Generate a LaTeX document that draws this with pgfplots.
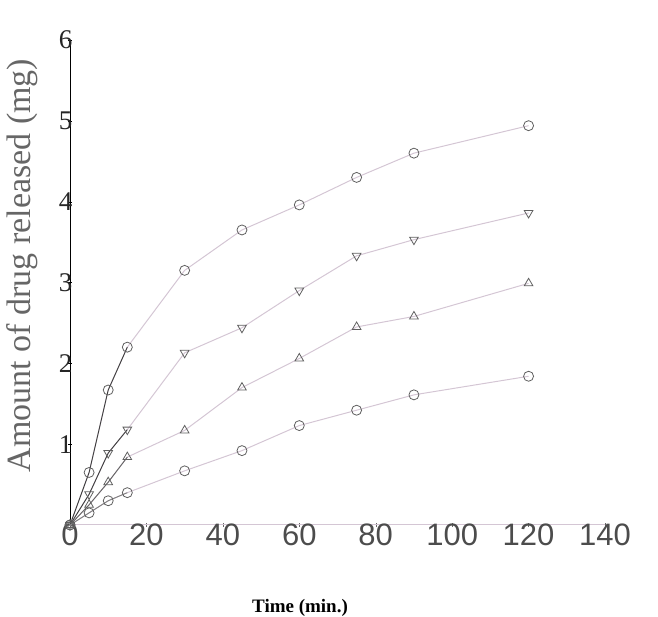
\documentclass[border=0pt]{standalone}
\usepackage{pgfplots}
\pgfplotsset{compat=1.18}
\usepackage{fontspec}
\setmainfont{Liberation Serif}
\newfontfamily\sansf{Liberation Sans}
\definecolor{ln}{RGB}{212,198,212}
\definecolor{mk}{RGB}{95,95,95}
\begin{document}
\begin{tikzpicture}
\useasboundingbox (0,0) rectangle (658pt,617pt);
\begin{axis}[
  at={(70pt,92pt)}, anchor=south west,
  scale only axis, width=535pt, height=485pt,
  xmin=0, xmax=140, ymin=0, ymax=6,
  axis x line=bottom, axis y line=left,
  x axis line style={-, draw=ln, line width=1pt},
  y axis line style={-, draw=black, line width=0.9pt},
  /pgf/number format/assume math mode=true,
  xtick={0,20,...,140}, ytick={1,2,...,6},
  major tick length=4pt,
  xtick style={draw=black!60},
  ytick style={draw=black},
  xticklabel style={font=\sansf\fontsize{31}{31}\selectfont, text=black!70, yshift=7pt},
  yticklabel style={font=\fontsize{27}{27}\selectfont, text=black!85, xshift=8pt},
  xlabel={\textbf{Time (min.)}},
  xlabel style={at={(axis description cs:0.43,-0.17)}, anchor=center, font=\fontsize{19}{19}\selectfont},
  ylabel={Amount of drug released (mg)},
  ylabel style={at={(axis description cs:-0.09,0.535)}, anchor=center, font=\fontsize{34}{34}\selectfont, text=black!60},
  every axis plot/.append style={line width=1pt},
  clip=false,
]
% series 1 (circles)
\addplot[color=ln, mark=o, mark size=5pt, mark options={draw=mk, line width=0.8pt}] coordinates {
 (0,0) (5,0.65) (10,1.67) (15,2.2) (30,3.15) (45,3.65) (60,3.96) (75,4.3) (90,4.6) (120,4.94)};
% series 2 (down triangles)
\addplot[color=ln, mark=triangle, mark size=5pt, mark options={draw=mk, rotate=180, line width=0.8pt}] coordinates {
 (0,0) (5,0.38) (10,0.89) (15,1.18) (30,2.13) (45,2.44) (60,2.9) (75,3.33) (90,3.53) (120,3.86)};
% series 3 (up triangles)
\addplot[color=ln, mark=triangle, mark size=5pt, mark options={draw=mk, line width=0.8pt}] coordinates {
 (0,0) (5,0.25) (10,0.53) (15,0.84) (30,1.17) (45,1.7) (60,2.06) (75,2.45) (90,2.58) (120,2.99)};
% series 4 (circles)
\addplot[color=ln, mark=o, mark size=5pt, mark options={draw=mk, line width=0.8pt}] coordinates {
 (0,0) (5,0.15) (10,0.3) (15,0.4) (30,0.67) (45,0.92) (60,1.23) (75,1.42) (90,1.61) (120,1.84)};
% darker initial segments
\addplot[color=black!75, line width=0.9pt] coordinates {(0,0) (5,0.65) (10,1.67) (15,2.2)};
\addplot[color=black!75, line width=0.9pt] coordinates {(0,0) (5,0.38) (10,0.89) (15,1.18)};
\addplot[color=black!60, line width=0.9pt] coordinates {(0,0) (5,0.25) (10,0.53) (15,0.84)};
\addplot[color=black!50, line width=0.9pt] coordinates {(0,0) (5,0.15) (10,0.3) (15,0.4)};
\end{axis}
\end{tikzpicture}
\end{document}
